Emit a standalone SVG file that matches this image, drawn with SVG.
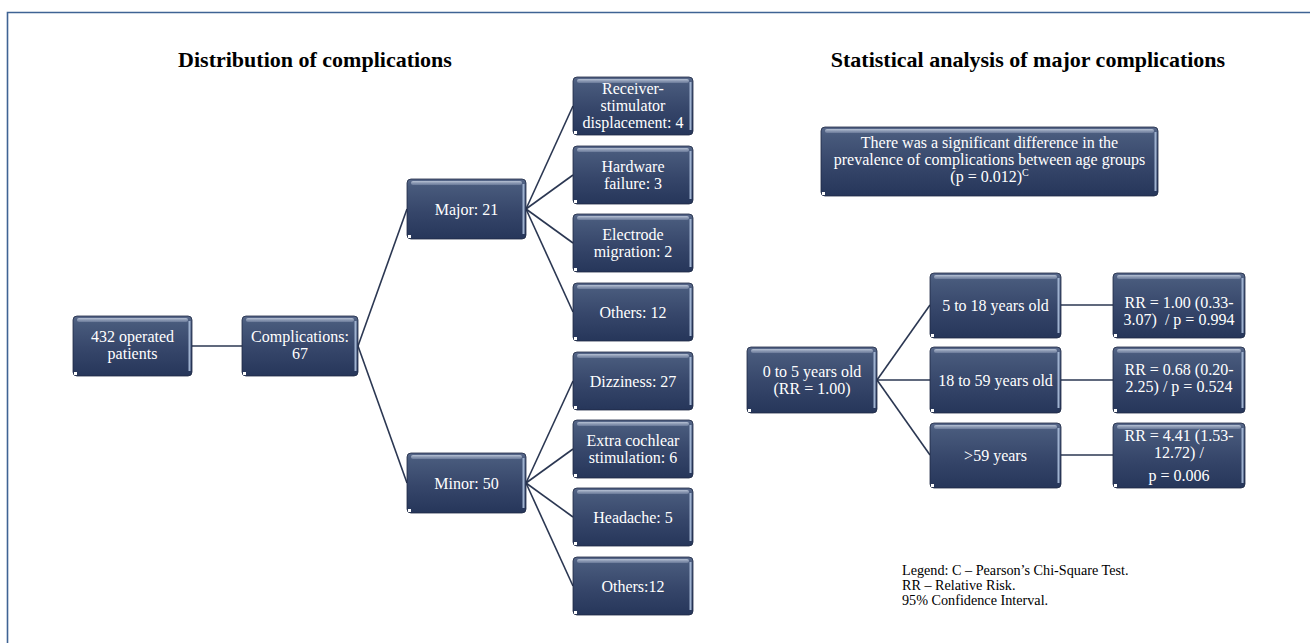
<svg xmlns="http://www.w3.org/2000/svg" width="1310" height="643" viewBox="0 0 1310 643">
<defs>
<linearGradient id="nodeFill" x1="0" y1="0" x2="0" y2="1">
<stop offset="0" stop-color="#58688a"/>
<stop offset="0.12" stop-color="#485a7c"/>
<stop offset="0.55" stop-color="#36466a"/>
<stop offset="1" stop-color="#26365a"/>
</linearGradient>
<linearGradient id="gloss" x1="0" y1="0" x2="0" y2="1">
<stop offset="0" stop-color="#c8d2e2" stop-opacity="0.85"/>
<stop offset="1" stop-color="#8c9ab6" stop-opacity="0.5"/>
</linearGradient>
</defs>
<style>
.box{fill:url(#nodeFill);stroke:#1e2a44;stroke-width:0.8}
.gl{fill:url(#gloss)}
.edge{fill:#9fb2cf}
.dot{fill:#ffffff}
.t{font-family:"Liberation Serif","Times New Roman",serif;font-size:16px;fill:#ffffff;text-anchor:middle;white-space:pre}
.title{font-family:"Liberation Serif","Times New Roman",serif;font-size:22px;font-weight:bold;fill:#000000;text-anchor:middle}
.leg{font-family:"Liberation Serif","Times New Roman",serif;font-size:14.2px;fill:#000000}
.c{stroke:#2b3752;stroke-width:1.6;fill:none}
</style>
<rect x="0" y="0" width="1310" height="643" fill="#ffffff"/>
<polyline points="7.5,643 7.5,12.5 1310,12.5" fill="none" stroke="#3f6394" stroke-width="1.6"/>

<text class="title" x="315" y="67">Distribution of complications</text>
<text class="title" x="1028" y="67">Statistical analysis of major complications</text>

<g id="connectors">
<line class="c" x1="192" y1="346" x2="242" y2="346"/>
<line class="c" x1="358" y1="346" x2="407" y2="209"/>
<line class="c" x1="358" y1="346" x2="407" y2="483"/>
<line class="c" x1="526" y1="209" x2="573" y2="106"/>
<line class="c" x1="526" y1="209" x2="573" y2="175"/>
<line class="c" x1="526" y1="209" x2="573" y2="243"/>
<line class="c" x1="526" y1="209" x2="573" y2="312"/>
<line class="c" x1="526" y1="483" x2="573" y2="381"/>
<line class="c" x1="526" y1="483" x2="573" y2="449"/>
<line class="c" x1="526" y1="483" x2="573" y2="517"/>
<line class="c" x1="526" y1="483" x2="573" y2="586"/>
<line class="c" x1="877" y1="380" x2="930" y2="305"/>
<line class="c" x1="877" y1="380" x2="930" y2="380"/>
<line class="c" x1="877" y1="380" x2="930" y2="455"/>
<line class="c" x1="1061" y1="305" x2="1113" y2="305"/>
<line class="c" x1="1061" y1="380" x2="1113" y2="380"/>
<line class="c" x1="1061" y1="455" x2="1113" y2="455"/>
</g>

<g id="n-patients">
<rect class="box" x="73" y="316" width="119" height="60" rx="4"/>
<rect class="gl" x="77" y="318" width="111" height="4" rx="2"/>
<rect class="edge" x="188.5" y="321" width="2" height="50"/>
<rect class="dot" x="74" y="372" width="3" height="3"/>
<text class="t" x="132.5" y="342">432 operated</text>
<text class="t" x="132.5" y="359">patients</text>
</g>

<g id="n-complications">
<rect class="box" x="242" y="316" width="116" height="60" rx="4"/>
<rect class="gl" x="246" y="318" width="108" height="4" rx="2"/>
<rect class="edge" x="354.5" y="321" width="2" height="50"/>
<rect class="dot" x="243" y="372" width="3" height="3"/>
<text class="t" x="300" y="342">Complications:</text>
<text class="t" x="300" y="359">67</text>
</g>

<g id="n-major">
<rect class="box" x="407" y="179" width="119" height="60" rx="4"/>
<rect class="gl" x="411" y="181" width="111" height="4" rx="2"/>
<rect class="edge" x="522.5" y="184" width="2" height="50"/>
<rect class="dot" x="408" y="235" width="3" height="3"/>
<text class="t" x="466.5" y="214.5">Major: 21</text>
</g>

<g id="n-minor">
<rect class="box" x="407" y="453" width="119" height="60" rx="4"/>
<rect class="gl" x="411" y="455" width="111" height="4" rx="2"/>
<rect class="edge" x="522.5" y="458" width="2" height="50"/>
<rect class="dot" x="408" y="509" width="3" height="3"/>
<text class="t" x="466.5" y="488.5">Minor: 50</text>
</g>

<g id="n-receiver">
<rect class="box" x="573" y="77" width="120" height="58" rx="4"/>
<rect class="gl" x="577" y="79" width="112" height="4" rx="2"/>
<rect class="edge" x="689.5" y="82" width="2" height="48"/>
<rect class="dot" x="574" y="131" width="3" height="3"/>
<text class="t" x="633" y="94">Receiver-</text>
<text class="t" x="633" y="111">stimulator</text>
<text class="t" x="633" y="128">displacement: 4</text>
</g>

<g id="n-hardware">
<rect class="box" x="573" y="146" width="120" height="58" rx="4"/>
<rect class="gl" x="577" y="148" width="112" height="4" rx="2"/>
<rect class="edge" x="689.5" y="151" width="2" height="48"/>
<rect class="dot" x="574" y="200" width="3" height="3"/>
<text class="t" x="633" y="171.5">Hardware</text>
<text class="t" x="633" y="188.5">failure: 3</text>
</g>

<g id="n-electrode">
<rect class="box" x="573" y="214" width="120" height="58" rx="4"/>
<rect class="gl" x="577" y="216" width="112" height="4" rx="2"/>
<rect class="edge" x="689.5" y="219" width="2" height="48"/>
<rect class="dot" x="574" y="268" width="3" height="3"/>
<text class="t" x="633" y="239.5">Electrode</text>
<text class="t" x="633" y="256.5">migration: 2</text>
</g>

<g id="n-others-major">
<rect class="box" x="573" y="283" width="120" height="58" rx="4"/>
<rect class="gl" x="577" y="285" width="112" height="4" rx="2"/>
<rect class="edge" x="689.5" y="288" width="2" height="48"/>
<rect class="dot" x="574" y="337" width="3" height="3"/>
<text class="t" x="633" y="317.5">Others: 12</text>
</g>

<g id="n-dizziness">
<rect class="box" x="573" y="352" width="120" height="58" rx="4"/>
<rect class="gl" x="577" y="354" width="112" height="4" rx="2"/>
<rect class="edge" x="689.5" y="357" width="2" height="48"/>
<rect class="dot" x="574" y="406" width="3" height="3"/>
<text class="t" x="633" y="386.5">Dizziness: 27</text>
</g>

<g id="n-extra">
<rect class="box" x="573" y="420" width="120" height="58" rx="4"/>
<rect class="gl" x="577" y="422" width="112" height="4" rx="2"/>
<rect class="edge" x="689.5" y="425" width="2" height="48"/>
<rect class="dot" x="574" y="474" width="3" height="3"/>
<text class="t" x="633" y="445.5">Extra cochlear</text>
<text class="t" x="633" y="462.5">stimulation: 6</text>
</g>

<g id="n-headache">
<rect class="box" x="573" y="488" width="120" height="58" rx="4"/>
<rect class="gl" x="577" y="490" width="112" height="4" rx="2"/>
<rect class="edge" x="689.5" y="493" width="2" height="48"/>
<rect class="dot" x="574" y="542" width="3" height="3"/>
<text class="t" x="633" y="522.5">Headache: 5</text>
</g>

<g id="n-others-minor">
<rect class="box" x="573" y="557" width="120" height="58" rx="4"/>
<rect class="gl" x="577" y="559" width="112" height="4" rx="2"/>
<rect class="edge" x="689.5" y="562" width="2" height="48"/>
<rect class="dot" x="574" y="611" width="3" height="3"/>
<text class="t" x="633" y="591.5">Others:12</text>
</g>

<g id="n-significant">
<rect class="box" x="821" y="127" width="337" height="69" rx="4"/>
<rect class="gl" x="825" y="129" width="329" height="4" rx="2"/>
<rect class="edge" x="1154.5" y="132" width="2" height="59"/>
<rect class="dot" x="822" y="192" width="3" height="3"/>
<text class="t" x="989.5" y="147.5">There was a significant difference in the</text>
<text class="t" x="989.5" y="164.5">prevalence of complications between age groups</text>
<text class="t" x="989.5" y="181.5">(p = 0.012)<tspan font-size="10" dy="-6">C</tspan></text>
</g>

<g id="n-0to5">
<rect class="box" x="747" y="347" width="130" height="66" rx="4"/>
<rect class="gl" x="751" y="349" width="122" height="4" rx="2"/>
<rect class="edge" x="873.5" y="352" width="2" height="56"/>
<rect class="dot" x="748" y="409" width="3" height="3"/>
<text class="t" x="812" y="376.5">0 to 5 years old</text>
<text class="t" x="812" y="393.5">(RR = 1.00)</text>
</g>

<g id="n-5to18">
<rect class="box" x="930" y="273" width="131" height="65" rx="4"/>
<rect class="gl" x="934" y="275" width="123" height="4" rx="2"/>
<rect class="edge" x="1057.5" y="278" width="2" height="55"/>
<rect class="dot" x="931" y="334" width="3" height="3"/>
<text class="t" x="995.5" y="310.5">5 to 18 years old</text>
</g>

<g id="n-18to59">
<rect class="box" x="930" y="347" width="131" height="66" rx="4"/>
<rect class="gl" x="934" y="349" width="123" height="4" rx="2"/>
<rect class="edge" x="1057.5" y="352" width="2" height="56"/>
<rect class="dot" x="931" y="409" width="3" height="3"/>
<text class="t" x="995.5" y="385.5">18 to 59 years old</text>
</g>

<g id="n-over59">
<rect class="box" x="930" y="423" width="131" height="65" rx="4"/>
<rect class="gl" x="934" y="425" width="123" height="4" rx="2"/>
<rect class="edge" x="1057.5" y="428" width="2" height="55"/>
<rect class="dot" x="931" y="484" width="3" height="3"/>
<text class="t" x="995.5" y="461">&gt;59 years</text>
</g>

<g id="n-rr1">
<rect class="box" x="1113" y="273" width="132" height="65" rx="4"/>
<rect class="gl" x="1117" y="275" width="124" height="4" rx="2"/>
<rect class="edge" x="1241.5" y="278" width="2" height="55"/>
<rect class="dot" x="1114" y="334" width="3" height="3"/>
<text class="t" x="1179" y="307.5">RR = 1.00 (0.33-</text>
<text class="t" x="1179" y="324.5">3.07)  / p = 0.994</text>
</g>

<g id="n-rr2">
<rect class="box" x="1113" y="347" width="132" height="66" rx="4"/>
<rect class="gl" x="1117" y="349" width="124" height="4" rx="2"/>
<rect class="edge" x="1241.5" y="352" width="2" height="56"/>
<rect class="dot" x="1114" y="409" width="3" height="3"/>
<text class="t" x="1179" y="375">RR = 0.68 (0.20-</text>
<text class="t" x="1179" y="392">2.25) / p = 0.524</text>
</g>

<g id="n-rr3">
<rect class="box" x="1113" y="423" width="132" height="65" rx="4"/>
<rect class="gl" x="1117" y="425" width="124" height="4" rx="2"/>
<rect class="edge" x="1241.5" y="428" width="2" height="55"/>
<rect class="dot" x="1114" y="484" width="3" height="3"/>
<text class="t" x="1179" y="441">RR = 4.41 (1.53-</text>
<text class="t" x="1179" y="458">12.72) /</text>
<text class="t" x="1179" y="480.5">p = 0.006</text>
</g>

<g id="legend">
<text class="leg" x="902" y="575">Legend: C – Pearson’s Chi-Square Test.</text>
<text class="leg" x="902" y="590">RR – Relative Risk.</text>
<text class="leg" x="902" y="605">95% Confidence Interval.</text>
</g>
</svg>
